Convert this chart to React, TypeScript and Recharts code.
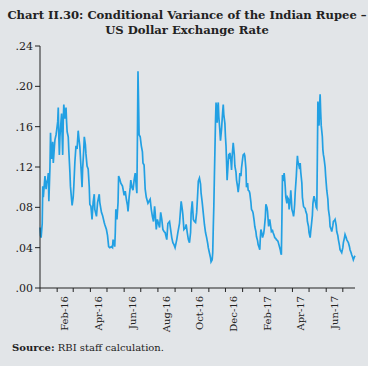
import React from 'react';
import { LineChart, Line, XAxis, YAxis } from 'recharts';

// days counted from 1 Jan 2016
const obsDay = [
  0, 1, 2, 4, 5, 6, 8, 9, 11, 12, 14, 15, 16, 18, 19, 20, 21, 23, 24, 26,
  27, 29, 30, 32, 33, 34, 35, 36, 37, 39, 40, 41, 42, 43, 45, 47, 48, 49, 51, 52,
  54, 55, 57, 58, 60, 61, 63, 65, 67, 69, 70, 72, 74, 76, 77, 79, 80, 82, 83, 85,
  87, 89, 90, 92, 94, 96, 98, 99, 102, 104, 107, 108, 111, 113, 116, 117, 120, 122, 124, 126,
  129, 131, 132, 134, 135, 136, 137, 138, 139, 141, 142, 144, 146, 149, 150, 152, 154, 156, 158, 159,
  161, 163, 164, 166, 168, 170, 172, 174, 175, 176, 177, 178, 179, 181, 183, 185, 186, 188, 190, 192,
  195, 197, 199, 201, 203, 205, 207, 208, 210, 212, 214, 216, 218, 220, 222, 224, 226, 229, 231, 234,
  236, 238, 240, 242, 244, 247, 249, 252, 255, 257, 258, 260, 263, 264, 266, 268, 270, 272, 273, 275,
  277, 279, 281, 283, 285, 286, 288, 290, 291, 293, 295, 297, 299, 301, 303, 304, 306, 308, 309, 311,
  312, 313, 314, 315, 316, 317, 318, 319, 320, 321, 322, 323, 324, 325, 326, 328, 329, 330, 331, 332,
  334, 335, 336, 337, 338, 340, 341, 342, 343, 345, 346, 347, 349, 351, 352, 354, 355, 357, 358, 360,
  361, 363, 364, 366, 367, 369, 370, 372, 373, 375, 376, 378, 379, 381, 382, 384, 385, 387, 388, 390,
  391, 393, 394, 396, 397, 398, 399, 401, 402, 404, 405, 407, 408, 410, 411, 412, 413, 414, 415, 417,
  418, 420, 421, 423, 424, 426, 427, 429, 430, 432, 434, 435, 436, 437, 438, 439, 441, 442, 443, 444,
  446, 447, 449, 450, 452, 453, 454, 455, 457, 458, 459, 460, 461, 463, 464, 465, 466, 468, 469, 470,
  471, 473, 474, 476, 477, 479, 480, 482, 483, 485, 486, 488, 489, 490, 492, 493, 494, 495, 497, 498,
  499, 500, 501, 502, 503, 504, 505, 506, 507, 508, 510, 511, 512, 513, 515, 516, 517, 518, 520, 521,
  523, 524, 526, 527, 529, 530, 532, 533, 535, 536, 538, 539, 541, 542, 544, 545, 547, 548, 550, 551,
  553, 554, 556, 557, 559, 560, 562, 563, 565, 566, 568, 569,
];

const obsVal = [
  .060, .052, .050, .064, .101, .090, .104, .111, .098, .104, .108, .114, .086, .120, .154, .138, .128, .145, .124, .140,
  .147, .152, .156, .165, .179, .150, .132, .150, .158, .173, .150, .132, .165, .182, .168, .179, .165, .155, .150, .137,
  .115, .101, .088, .082, .090, .100, .125, .141, .138, .156, .150, .140, .120, .100, .118, .137, .150, .142, .133, .121,
  .118, .100, .083, .081, .068, .085, .093, .078, .071, .085, .093, .085, .075, .072, .065, .063, .058, .052, .041, .040,
  .041, .040, .048, .044, .041, .055, .078, .072, .068, .085, .111, .108, .104, .101, .098, .092, .096, .088, .082, .076,
  .090, .100, .107, .100, .097, .107, .114, .100, .094, .150, .215, .185, .152, .150, .141, .135, .124, .122, .098, .090,
  .084, .086, .088, .078, .071, .066, .081, .075, .058, .068, .064, .060, .075, .068, .058, .056, .055, .048, .064, .066,
  .058, .050, .045, .043, .040, .048, .055, .064, .086, .078, .073, .058, .060, .063, .055, .048, .045, .055, .074, .086,
  .068, .066, .065, .075, .095, .106, .109, .103, .094, .085, .074, .063, .055, .050, .044, .040, .035, .030, .026, .028,
  .035, .060, .081, .110, .137, .165, .184, .170, .164, .180, .184, .170, .163, .155, .146, .158, .167, .175, .182, .172,
  .163, .150, .141, .125, .107, .125, .133, .128, .134, .125, .117, .130, .144, .132, .121, .115, .107, .100, .095, .105,
  .114, .111, .119, .128, .132, .133, .131, .118, .100, .104, .097, .096, .094, .085, .078, .076, .074, .066, .061, .056,
  .051, .047, .043, .040, .038, .050, .058, .054, .050, .054, .058, .070, .083, .080, .076, .068, .061, .066, .068, .060,
  .056, .057, .055, .052, .050, .049, .048, .047, .046, .042, .038, .035, .033, .070, .112, .106, .114, .108, .100, .090,
  .084, .090, .088, .078, .088, .097, .088, .078, .074, .071, .076, .083, .095, .111, .122, .131, .125, .121, .118, .124,
  .115, .104, .090, .081, .080, .079, .076, .073, .066, .061, .055, .050, .056, .061, .072, .084, .088, .091, .086, .084,
  .080, .079, .130, .185, .170, .161, .180, .192, .175, .161, .150, .137, .132, .129, .120, .111, .104, .097, .088, .078,
  .070, .061, .058, .056, .062, .066, .067, .068, .062, .056, .052, .048, .042, .038, .036, .035, .040, .045, .050, .053,
  .050, .048, .046, .045, .041, .038, .035, .033, .030, .028, .031, .032,
];

const yTicks = [0, 0.04, 0.08, 0.12, 0.16, 0.2, 0.24];

const monthStarts = [
  [2016, 0], [2016, 1], [2016, 2], [2016, 3], [2016, 4], [2016, 5], [2016, 6], [2016, 7], [2016, 8], [2016, 9],
  [2016, 10], [2016, 11], [2017, 0], [2017, 1], [2017, 2], [2017, 3], [2017, 4], [2017, 5], [2017, 6],
];
const labelMonths = ['Feb-16', 'Apr-16', 'Jun-16', 'Aug-16', 'Oct-16', 'Dec-16', 'Feb-17', 'Apr-17', 'Jun-17'];
const labelDays = [45, 106, 167, 228, 289, 350, 411, 471, 532];

const DAY = 86400000;
const base = Date.UTC(2016, 0, 1);
const startDays = monthStarts.map(([y, m]) => Math.round((Date.UTC(y, m, 1) - base) / DAY));
const allTicks = [...startDays, ...labelDays].sort((a, b) => a - b);

const data = obsDay.map((d, i) => ({ day: d, cv: obsVal[i] }));

const serif = '"DejaVu Serif", serif';

function XTick(props: any) {
  const { x, y, payload } = props;
  const li = labelDays.indexOf(payload.value);
  if (li >= 0) {
    return (
      <text
        x={x}
        y={y + 2}
        dy="0.35em"
        transform={`rotate(-90, ${x}, ${y + 2})`}
        textAnchor="end"
        fontSize={10}
        fontFamily={serif}
        fill="#222"
      >
        {labelMonths[li]}
      </text>
    );
  }
  return <line x1={x} x2={x} y1={y - 6} y2={y - 2} stroke="#222" />;
}

export default function App() {
  return (
    <div
      style={{
        position: 'absolute',
        left: 0,
        top: 0,
        width: 368,
        height: 366,
        background: '#e2e5e8',
        fontFamily: serif,
        color: '#222',
      }}
    >
      <div
        style={{
          position: 'absolute',
          top: 8,
          left: 3,
          width: 368,
          textAlign: 'center',
          fontWeight: 'bold',
          fontSize: 11.6,
          lineHeight: '15px',
        }}
      >
        Chart II.30: Conditional Variance of the Indian Rupee –<br />
        US Dollar Exchange Rate
      </div>
      <LineChart
        width={368}
        height={366}
        data={data}
        margin={{ top: 46, right: 13, left: 0, bottom: 28 }}
      >
        <XAxis
          dataKey="day"
          type="number"
          domain={[0, 569]}
          ticks={allTicks}
          interval={0}
          tick={<XTick />}
          tickLine={false}
          tickSize={4}
          tickMargin={2}
          height={50}
          axisLine={{ stroke: '#222' }}
        />
        <YAxis
          type="number"
          domain={[0, 0.24]}
          ticks={yTicks}
          interval={0}
          width={40}
          tickSize={5}
          tickMargin={2}
          tickFormatter={(v: number) => v.toFixed(2).replace(/^0/, '')}
          tick={{ fontSize: 11, fontFamily: serif, fill: '#222' }}
          tickLine={{ stroke: '#222' }}
          axisLine={{ stroke: '#222' }}
        />
        <Line
          type="linear"
          dataKey="cv"
          stroke="#22a0e3"
          strokeWidth={1.7}
          dot={false}
          isAnimationActive={false}
        />
      </LineChart>
      <div style={{ position: 'absolute', left: 12, top: 342, fontSize: 10 }}>
        <b>Source:</b> RBI staff calculation.
      </div>
    </div>
  );
}
